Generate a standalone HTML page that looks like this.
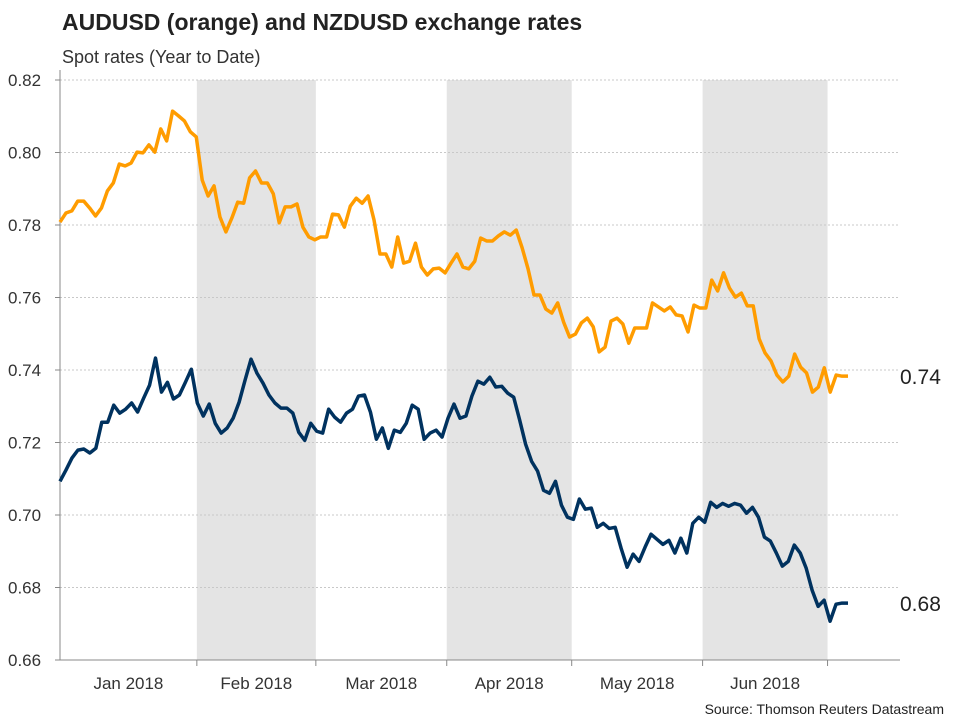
<!DOCTYPE html>
<html><head><meta charset="utf-8"><style>
body{margin:0;background:#fff;font-family:"Liberation Sans",Arial,sans-serif}
svg text{font-family:"Liberation Sans",Arial,sans-serif}
</style></head><body>
<svg id="chart" width="960" height="720">
<text x="62" y="30" font-size="23" font-weight="bold" fill="#222">AUDUSD (orange) and NZDUSD exchange rates</text>
<text x="62" y="63" font-size="18" fill="#333">Spot rates (Year to Date)</text>
<text x="944" y="714" font-size="14" fill="#222" text-anchor="end">Source: Thomson Reuters Datastream</text>
</svg>
<script>
const yTicks=[0.66,0.68,0.70,0.72,0.74,0.76,0.78,0.80,0.82];
const monthLabels=["Jan 2018","Feb 2018","Mar 2018","Apr 2018","May 2018","Jun 2018"];
const monthStartDays=[0,23,43,65,86,108,129];
const shadedMonths=[1,3,5];
const audusd=[0.7808,0.7833,0.7839,0.7866,0.7866,0.7847,0.7825,0.7847,0.7894,0.7916,0.7968,0.7963,0.7971,0.8001,0.7999,0.8021,0.8001,0.8065,0.8032,0.8114,0.8101,0.8087,0.8057,0.8043,0.7924,0.7880,0.7908,0.7822,0.7781,0.7819,0.7863,0.7860,0.7930,0.7949,0.7916,0.7916,0.7886,0.7806,0.7850,0.7850,0.7858,0.7794,0.7767,0.7759,0.7767,0.7767,0.7830,0.7828,0.7794,0.7852,0.7874,0.7860,0.7880,0.7814,0.7720,0.7720,0.7684,0.7767,0.7695,0.7700,0.7750,0.7684,0.7662,0.7679,0.7681,0.7668,0.7695,0.7720,0.7684,0.7679,0.7700,0.7764,0.7756,0.7756,0.7770,0.7781,0.7772,0.7786,0.7737,0.7679,0.7607,0.7607,0.7568,0.7557,0.7585,0.7532,0.7491,0.7499,0.7530,0.7543,0.7519,0.7450,0.7463,0.7535,0.7543,0.7527,0.7474,0.7516,0.7516,0.7516,0.7585,0.7574,0.7563,0.7574,0.7552,0.7549,0.7505,0.7579,0.7571,0.7571,0.7648,0.7618,0.7668,0.7626,0.7601,0.7612,0.7577,0.7577,0.7486,0.7447,0.7425,0.7386,0.7367,0.7383,0.7444,0.7408,0.7392,0.7339,0.7353,0.7406,0.7339,0.7386,0.7383,0.7383];
const nzdusd=[0.7093,0.7124,0.7157,0.7179,0.7182,0.7171,0.7184,0.7256,0.7256,0.7303,0.7281,0.7292,0.7309,0.7284,0.7322,0.7358,0.7433,0.7339,0.7366,0.7320,0.7331,0.7366,0.7402,0.7309,0.7273,0.7306,0.7253,0.7226,0.7240,0.7267,0.7311,0.7372,0.7430,0.7391,0.7364,0.7331,0.7309,0.7295,0.7295,0.7281,0.7228,0.7206,0.7253,0.7231,0.7226,0.7292,0.7270,0.7256,0.7281,0.7292,0.7328,0.7331,0.7284,0.7209,0.7240,0.7184,0.7234,0.7228,0.7253,0.7303,0.7292,0.7209,0.7226,0.7234,0.7215,0.7267,0.7306,0.7267,0.7273,0.7328,0.7369,0.7361,0.7380,0.7353,0.7355,0.7336,0.7325,0.7262,0.7195,0.7148,0.7121,0.7068,0.7060,0.7093,0.7027,0.6994,0.6988,0.7044,0.7016,0.7019,0.6966,0.6977,0.6963,0.6966,0.6908,0.6856,0.6892,0.6872,0.6911,0.6947,0.6933,0.6919,0.6930,0.6895,0.6936,0.6895,0.6977,0.6994,0.6980,0.7035,0.7021,0.7032,0.7024,0.7032,0.7027,0.7005,0.7021,0.6994,0.6939,0.6928,0.6895,0.6859,0.6872,0.6917,0.6895,0.6853,0.6792,0.6748,0.6765,0.6707,0.6754,0.6757,0.6757];
const endLabels=["0.74","0.68"];

const svg=document.getElementById('chart');
const NS='http://www.w3.org/2000/svg';
const L=60,R=900,T=80,B=660,xEnd=848;
function y(v){return B-(v-0.66)/(0.82-0.66)*(B-T);}
function xDay(d){return L+d*5.95;}
function xIdx(i,n){return L+i*(xEnd-L)/(n-1);}
function mk(tag,attrs){const e=document.createElementNS(NS,tag);for(const k in attrs)e.setAttribute(k,attrs[k]);svg.appendChild(e);return e;}

shadedMonths.forEach(m=>{
  const r=mk('rect',{x:xDay(monthStartDays[m]),y:T,width:xDay(monthStartDays[m+1])-xDay(monthStartDays[m]),height:B-T,fill:'#e4e4e4'});
  
  
});
yTicks.forEach(v=>{
  if(v>0.66){const g=mk('line',{x1:L,x2:R,y1:y(v),y2:y(v),stroke:'#c8c8c8','stroke-dasharray':'2,2','stroke-width':1});
  
  }
  const tk=mk('line',{x1:L-5,x2:L,y1:y(v),y2:y(v),stroke:'#888'});
  
  
  const t=mk('text',{x:8,y:y(v)+6,'font-size':17,fill:'#333'});
  t.textContent=v.toFixed(2);
  
  
});
const ya=mk('line',{x1:L,x2:L,y1:T-10,y2:B,stroke:'#888'});


const xa=mk('line',{x1:L,x2:R,y1:B,y2:B,stroke:'#888'});


monthStartDays.forEach((d,i)=>{
  if(i>0){const tk=mk('line',{x1:xDay(d),x2:xDay(d),y1:B,y2:B+6,stroke:'#888'});
  
  }
  if(i<monthLabels.length){
    const t=mk('text',{x:(xDay(d)+xDay(monthStartDays[i+1]))/2,y:689,'font-size':17,fill:'#333','text-anchor':'middle'});
    t.textContent=monthLabels[i];
    
    
  }
});
function line(data,color,name){
  const p=mk('polyline',{points:data.map((v,i)=>xIdx(i,data.length)+','+y(v)).join(' '),fill:'none',stroke:color,'stroke-width':3.5,'stroke-linejoin':'round'});
  
  
}
line(audusd,'#ff9c00','audusd-line');
line(nzdusd,'#00325f','nzdusd-line');
[audusd,nzdusd].forEach((s,i)=>{
  const t=mk('text',{x:900,y:y(s[s.length-1])+8,'font-size':21,fill:'#222'});
  t.textContent=endLabels[i];
  
  
});
</script>
</body></html>
